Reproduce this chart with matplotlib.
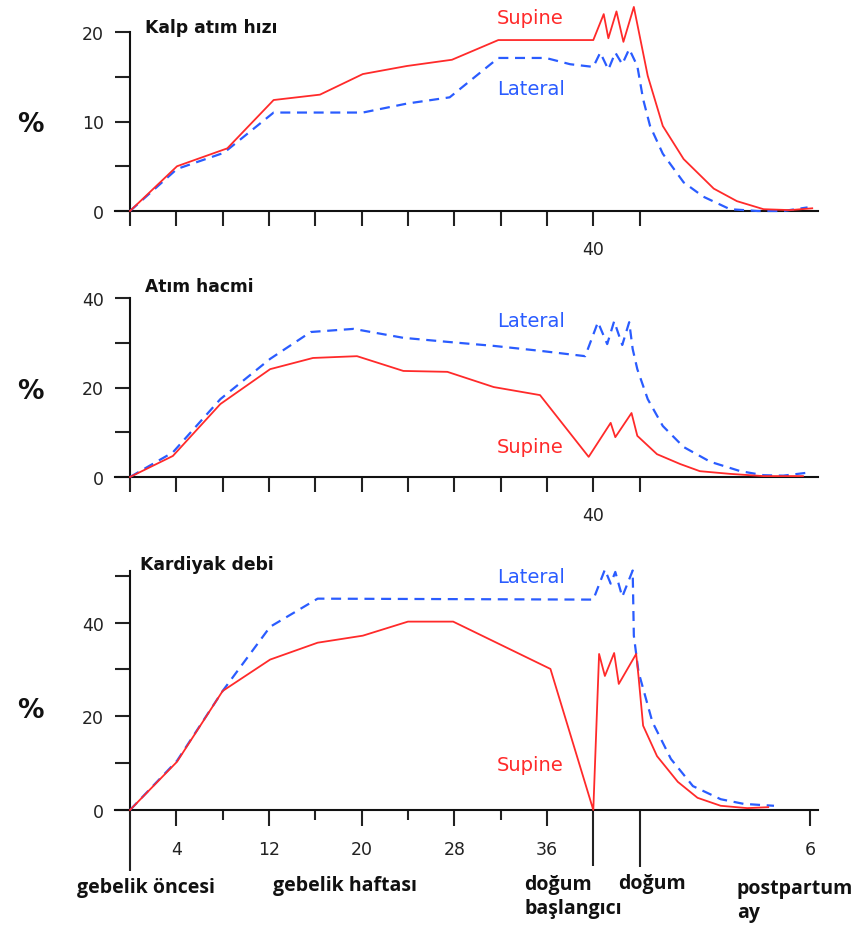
import matplotlib
matplotlib.use("Agg")
import matplotlib.pyplot as plt

# ---- x positions are in "week units"; delivery at 44, 6 months postpartum at 58.75
DELIVERY = 44.0
SIX_MONTHS = 58.75
XMAX = 59.4

# ---- Kalp atım hızı (heart rate) ----
hr_sup_x = [0, 4.06, 8.4, 12.4, 16.4, 20.1, 23.9, 27.8, 31.8, 40.0, 40.9, 41.3, 42.0, 42.6, 43.5, 44.7, 46.0, 47.8, 50.4, 52.4, 54.7, 57.0, 58.9]
hr_sup_y = [0, 5.0, 7.0, 12.4, 13.0, 15.3, 16.2, 16.9, 19.1, 19.1, 22.0, 19.3, 22.3, 18.9, 22.8, 15.1, 9.5, 5.8, 2.5, 1.1, 0.2, 0.1, 0.3]
hr_lat_x = [0, 4.06, 8.1, 12.4, 20.1, 23.9, 27.6, 31.8, 35.9, 38.0, 40.0, 40.6, 41.3, 41.9, 42.5, 43.1, 43.8, 44.3, 44.9, 46.0, 47.8, 49.5, 51.8, 54.2, 56.4, 58.5]
hr_lat_y = [0, 4.7, 6.5, 11.0, 11.0, 12.0, 12.7, 17.1, 17.1, 16.4, 16.1, 17.7, 15.8, 17.7, 16.4, 18.1, 16.2, 12.5, 9.5, 6.4, 3.2, 1.6, 0.2, 0.0, 0.0, 0.4]

# ---- Atım hacmi (stroke volume) ----
sv_sup_x = [0, 3.7, 7.8, 12.1, 15.8, 19.6, 23.6, 27.4, 31.4, 35.4, 39.6, 41.5, 41.9, 43.3, 43.8, 45.5, 47.5, 49.2, 51.8, 54.7, 58.1]
sv_sup_y = [0, 4.7, 16.3, 24.1, 26.6, 27.0, 23.7, 23.5, 20.1, 18.3, 4.5, 12.1, 8.9, 14.3, 9.2, 5.1, 2.9, 1.3, 0.7, 0.2, 0.2]
sv_lat_x = [0, 3.7, 7.8, 12.1, 15.6, 19.3, 23.6, 27.4, 31.4, 35.4, 39.3, 40.4, 41.2, 41.8, 42.5, 43.1, 43.4, 43.8, 44.7, 46.0, 47.8, 50.1, 52.7, 54.7, 56.4, 58.3]
sv_lat_y = [0, 5.5, 17.4, 26.4, 32.4, 33.1, 31.1, 30.2, 29.3, 28.2, 27.0, 34.6, 29.7, 34.8, 29.5, 34.6, 28.6, 24.1, 17.4, 11.4, 6.7, 3.4, 1.3, 0.4, 0.3, 0.9]

# ---- Kardiyak debi (cardiac output) ----
co_sup_x = [0, 4.06, 8.0, 12.1, 16.2, 20.1, 24.0, 27.9, 36.3, 40.0, 40.5, 41.0, 41.8, 42.2, 43.7, 43.9, 44.3, 45.5, 47.3, 49.0, 51.0, 53.3, 55.1]
co_sup_y = [0, 10.3, 25.4, 32.1, 35.7, 37.2, 40.2, 40.2, 30.1, 0.0, 33.3, 28.6, 33.5, 26.9, 33.3, 28.6, 18.0, 11.5, 6.0, 2.6, 0.9, 0.4, 0.6]
co_lat_x = [0, 4.06, 8.0, 12.1, 16.2, 39.5, 40.0, 41.0, 41.5, 41.9, 42.5, 43.4, 43.5, 43.9, 45.1, 46.7, 48.6, 51.0, 53.0, 55.6]
co_lat_y = [0, 10.5, 25.4, 39.1, 45.1, 44.9, 44.9, 51.3, 48.3, 50.8, 45.5, 51.1, 37.2, 29.5, 18.8, 10.9, 5.1, 2.3, 1.3, 0.9]

titles = ["Kalp atım hızı", "Atım hacmi", "Kardiyak debi"]
RED = "#ff2a2a"
BLUE = "#2a5cff"

W, H = 859, 929
fig = plt.figure(figsize=(W / 100, H / 100), dpi=100)

def fx(px):
    return px / W

def fy(py):
    return 1 - py / H

x_left, x_right = 130, 818
axes_specs = [
    # (y0 px, ytop px, ymax, yticks, yticklabels)
    (212, 33, 20, [0, 5, 10, 15, 20], ["0", "", "10", "", "20"]),
    (478, 299, 40, [0, 10, 20, 30, 40], ["0", "", "20", "", "40"]),
    (811, 572, 51, [0, 10, 20, 30, 40, 50], ["0", "", "20", "", "40", ""]),
]
data = [
    (hr_sup_x, hr_sup_y, hr_lat_x, hr_lat_y),
    (sv_sup_x, sv_sup_y, sv_lat_x, sv_lat_y),
    (co_sup_x, co_sup_y, co_lat_x, co_lat_y),
]
label_pos = [  # (supine y, lateral y) in data units
    (21.6, 13.7),
    (6.9, 34.9),
    (9.8, 49.8),
]
title_pos = [(1.3, 20.6), (1.3, 42.7), (0.86, 52.6)]
pct_py = [125, 392, 711]

px_to_pt = 72 / 100
lw_axis = 1.5
for i, (y0, ytop, ymax, yt, ytl) in enumerate(axes_specs):
    ax = fig.add_axes([fx(x_left), fy(y0), fx(x_right - x_left), (y0 - ytop) / H])
    ax.set_xlim(0, XMAX)
    ax.set_ylim(0, ymax)
    for s in ["top", "right"]:
        ax.spines[s].set_visible(False)
    for s in ["left", "bottom"]:
        ax.spines[s].set_linewidth(lw_axis)
        ax.spines[s].set_color("#111111")
    ax.spines["bottom"].set_bounds(-15 / 11.575, XMAX)
    sx, sy, lx, ly = data[i]
    ax.plot(lx, ly, color=BLUE, lw=1.6, linestyle=(0, (4.5, 3)), clip_on=False, zorder=3)
    ax.plot(sx, sy, color=RED, lw=1.3, clip_on=False, zorder=4)
    ax.set_yticks(yt)
    ax.set_yticklabels(ytl)
    ax.tick_params(axis="y", direction="out", length=15 * px_to_pt, width=lw_axis,
                   pad=8, labelsize=12.5, colors="#222222")
    ax.tick_params(axis="x", direction="out", width=lw_axis, colors="#222222",
                   labelsize=12.5, pad=10)
    if i < 2:
        xt = [0, 4, 8, 12, 16, 20, 24, 28, 32, 36, 40, DELIVERY]
        xtl = ["" if v != 40 else "40" for v in xt]
        ax.set_xticks(xt)
        ax.set_xticklabels(xtl)
        ax.tick_params(axis="x", length=15 * px_to_pt)
    else:
        xt = [0, 4, 12, 20, 28, 36, 40, DELIVERY, SIX_MONTHS]
        xtl = ["", "4", "12", "20", "28", "36", "", "", "6"]
        ax.set_xticks(xt)
        ax.set_xticklabels(xtl)
        ax.set_xticks([8, 16, 24, 32], minor=True)
        ax.tick_params(axis="x", which="major", length=16 * px_to_pt, pad=10)
        ax.tick_params(axis="x", which="minor", length=10 * px_to_pt, width=lw_axis,
                       colors="#222222")
        long_len = {0: 61, 40: 56, DELIVERY: 57}
        for tk, v in zip(ax.xaxis.get_major_ticks(), xt):
            if v in long_len:
                tk.tick1line.set_markersize(long_len[v] * px_to_pt)
    for t in ax.get_xticklabels() + ax.get_yticklabels():
        t.set_color("#222222")

    sup_y, lat_y = label_pos[i]
    ax.text(31.7, sup_y, "Supine", color=RED, fontsize=14, ha="left", va="center")
    ax.text(31.7, lat_y, "Lateral", color=BLUE, fontsize=14, ha="left", va="center")
    tx, ty = title_pos[i]
    ax.text(tx, ty, titles[i], fontsize=12.3, fontweight="bold", ha="left",
            va="center", color="#111111", clip_on=False)
    fig.text(fx(30), fy(pct_py[i]), "%", fontsize=19, fontweight="bold",
             ha="center", va="center", color="#111111")

bfont = dict(fontsize=14, fontweight="bold", color="#111111", family="Open Sans")
fig.text(fx(77), fy(888), "gebelik öncesi", ha="left", va="center", **bfont)
fig.text(fx(273), fy(886), "gebelik haftası", ha="left", va="center", **bfont)
fig.text(fx(524), fy(897), "doğum\nbaşlangıcı", ha="left", va="center",
         linespacing=1.25, **bfont)
fig.text(fx(618), fy(884), "doğum", ha="left", va="center", **bfont)
fig.text(fx(737), fy(901), "postpartum\nay", ha="left", va="center",
         linespacing=1.25, **bfont)

fig.savefig("out.png", dpi=100)
